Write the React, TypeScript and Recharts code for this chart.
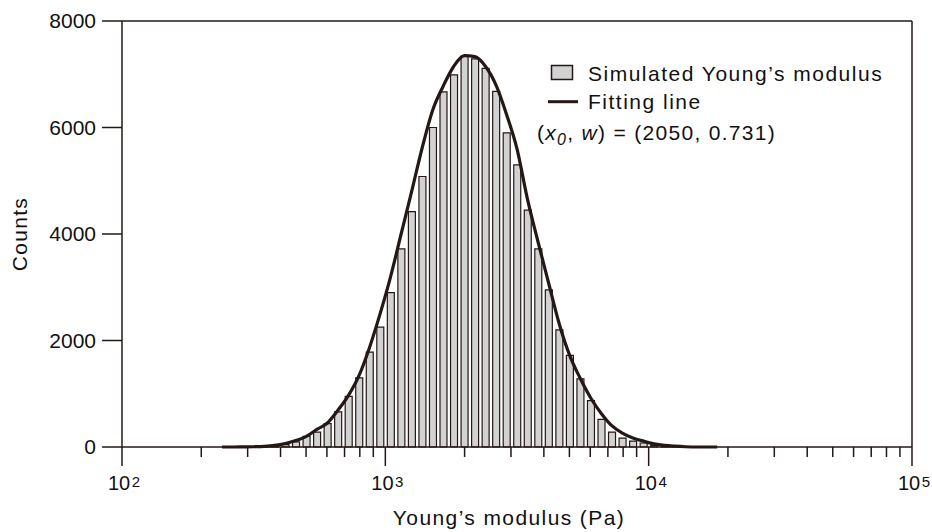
import React from "react";
import {
  ComposedChart,
  Bar,
  Line,
  XAxis,
  YAxis,
  ReferenceLine,
  Legend,
} from "recharts";

// bin centres, log10(Pa)
const binLog = [
  2.38, 2.42, 2.46, 2.5, 2.54, 2.58, 2.62, 2.66, 2.7, 2.74,
  2.78, 2.82, 2.86, 2.9, 2.94, 2.98, 3.02, 3.06, 3.1, 3.14,
  3.18, 3.22, 3.26, 3.3, 3.34, 3.38, 3.42, 3.46, 3.5, 3.54,
  3.58, 3.62, 3.66, 3.7, 3.74, 3.78, 3.82, 3.86, 3.9, 3.94,
  3.98, 4.02, 4.06, 4.1, 4.14, 4.18, 4.22, 4.26,
];

const counts = [
  0, 0, 0, 0, 5, 20, 45, 95, 200, 280,
  440, 660, 950, 1300, 1780, 2250, 2900, 3720, 4420, 5080,
  6000, 6670, 6990, 7340, 7290, 7110, 6680, 5900, 5300, 4450,
  3720, 2950, 2200, 1720, 1280, 870, 520, 280, 165, 110,
  75, 30, 10, 0, 0, 0, 0, 0,
];

const fitCounts = [
  0, 0, 2, 5, 12, 30, 65, 120, 200, 330,
  450, 690, 970, 1340, 1870, 2500, 3200, 4000, 4800, 5620,
  6330, 6780, 7150, 7350, 7330, 7150, 6800, 6250, 5600, 4650,
  3850, 3080, 2320, 1720, 1290, 920, 630, 400, 260, 170,
  110, 60, 30, 15, 5, 0, 0, 0,
];

const xTicks = [
  100, 200, 300, 400, 500, 600, 700, 800, 900,
  1000, 2000, 3000, 4000, 5000, 6000, 7000, 8000, 9000,
  10000, 20000, 30000, 40000, 50000, 60000, 70000, 80000, 90000,
  100000,
];
const yTicks = [0, 2000, 4000, 6000, 8000];

const INK = "#231815";
const TEXT = "#111";
const BAR_FILL = "#d2d2d2";
const FONT = "'Liberation Sans', Arial, Helvetica, sans-serif";

const data = binLog.map((l, i) => ({
  modulus: Math.pow(10, l),
  count: counts[i],
  fit: fitCounts[i],
}));

function LogTick(props: any) {
  const { x, y, payload } = props;
  const v = payload.value;
  const exp = Math.round(Math.log10(v));
  const major = Math.abs(v - Math.pow(10, exp)) < 1e-6;
  return (
    <g>
      <line x1={x} y1={y} x2={x} y2={y + (major ? 19 : 10)} stroke={INK} strokeWidth={1.5} />
      {major && (
        <text x={x - 14} y={y + 43} fontFamily={FONT} fontSize={20} fill={TEXT}>
          <tspan>10</tspan>
          <tspan dx={1.5} dy={-3.5} fontSize={15}>
            {exp}
          </tspan>
        </text>
      )}
    </g>
  );
}

function XTitle(props: any) {
  const vb = props.viewBox || { x: 0, y: 0, width: 0, height: 0 };
  return (
    <text
      x={vb.x + vb.width / 2 - 8}
      y={vb.y + 78}
      textAnchor="middle"
      fontFamily={FONT}
      fontSize={21}
      letterSpacing={1.4}
      fill={TEXT}
    >
      Young’s modulus (Pa)
    </text>
  );
}

function YTitle(props: any) {
  const vb = props.viewBox || { x: 0, y: 0, width: 0, height: 0 };
  const cx = vb.x + 27;
  const cy = vb.y + vb.height / 2;
  return (
    <text
      x={cx}
      y={cy}
      transform={`rotate(-90 ${cx} ${cy})`}
      textAnchor="middle"
      fontFamily={FONT}
      fontSize={21}
      letterSpacing={1.3}
      fill={TEXT}
    >
      Counts
    </text>
  );
}

function LegendBox() {
  const textProps = {
    fontFamily: FONT,
    fontSize: 21,
    letterSpacing: 1.5,
    fill: TEXT,
  };
  return (
    <svg width={400} height={110} style={{ overflow: "visible" }}>
      <rect x={31.5} y={17.5} width={21} height={14} fill={BAR_FILL} stroke={INK} strokeWidth={1.5} />
      <text x={68} y={32.5} {...textProps}>
        Simulated Young’s modulus
      </text>
      <line x1={28} y1={53.7} x2={58} y2={53.7} stroke={INK} strokeWidth={3} />
      <text x={68} y={60.5} {...textProps}>
        Fitting line
      </text>
      <text x={17} y={92} {...textProps} letterSpacing={1.3}>
        (<tspan fontStyle="italic">x</tspan>
        <tspan dy={5} fontSize={16} fontStyle="italic">0</tspan>
        <tspan dy={-5}>, </tspan>
        <tspan fontStyle="italic">w</tspan>) = (2050, 0.731)
      </text>
    </svg>
  );
}

export default function App() {
  return (
    <div
      style={{
        position: "absolute",
        left: 0,
        top: 0,
        width: 932,
        height: 532,
        background: "#fff",
      }}
    >
      <ComposedChart
        width={932}
        height={532}
        data={data}
        margin={{ top: 21, right: 20, bottom: 0, left: 0 }}
      >
        <XAxis
          dataKey="modulus"
          type="number"
          scale="log"
          domain={[100, 100000]}
          ticks={xTicks}
          interval={0}
          height={85}
          tickSize={0}
          tickMargin={0}
          tickLine={false}
          axisLine={{ stroke: INK, strokeWidth: 1.5 }}
          tick={<LogTick />}
          label={<XTitle />}
        />
        <YAxis
          type="number"
          domain={[0, 8000]}
          ticks={yTicks}
          width={122}
          tickSize={20}
          tickMargin={6}
          tickLine={{ stroke: INK, strokeWidth: 1.5 }}
          axisLine={{ stroke: INK, strokeWidth: 1.5 }}
          tick={{ fill: TEXT, fontSize: 21, fontFamily: FONT }}
          label={<YTitle />}
        />
        <ReferenceLine y={8000} stroke={INK} strokeWidth={1.5} />
        <ReferenceLine x={100000} stroke={INK} strokeWidth={1.5} />
        <Legend
          layout="horizontal"
          verticalAlign="middle"
          align="center"
          wrapperStyle={{ left: 520, top: 48, width: 400, height: 110 }}
          content={() => <LegendBox />}
        />
        <Bar
          dataKey="count"
          fill={BAR_FILL}
          stroke={INK}
          strokeWidth={1.2}
          barSize={7}
          isAnimationActive={false}
        />
        <Line
          type="monotone"
          dataKey="fit"
          stroke={INK}
          strokeWidth={3.2}
          dot={false}
          isAnimationActive={false}
        />
      </ComposedChart>
    </div>
  );
}
